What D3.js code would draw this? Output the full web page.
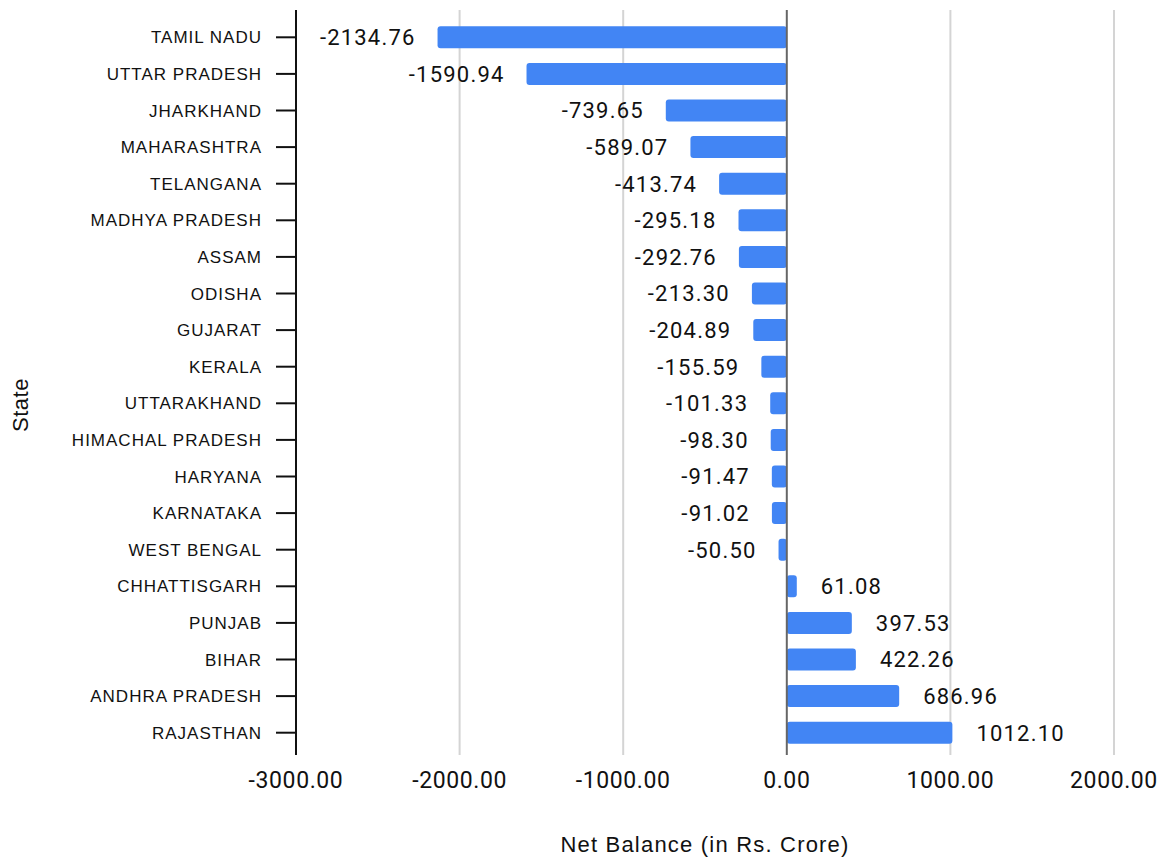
<!DOCTYPE html>
<html>
<head>
<meta charset="utf-8">
<script src="https://cdn.jsdelivr.net/npm/d3@7"></script>
<style>
  html, body { margin: 0; padding: 0; background: #fff; }
  svg { display: block; }
</style>
</head>
<body>
<svg id="chart" width="1159" height="858"></svg>
<script>
// Net balance by state (Rs. Crore)
const states = [
  "TAMIL NADU", "UTTAR PRADESH", "JHARKHAND", "MAHARASHTRA", "TELANGANA",
  "MADHYA PRADESH", "ASSAM", "ODISHA", "GUJARAT", "KERALA",
  "UTTARAKHAND", "HIMACHAL PRADESH", "HARYANA", "KARNATAKA", "WEST BENGAL",
  "CHHATTISGARH", "PUNJAB", "BIHAR", "ANDHRA PRADESH", "RAJASTHAN"
];
const netBalance = [
  -2134.76, -1590.94, -739.65, -589.07, -413.74,
  -295.18, -292.76, -213.30, -204.89, -155.59,
  -101.33, -98.30, -91.47, -91.02, -50.50,
  61.08, 397.53, 422.26, 686.96, 1012.10
];
const xTicks = [-3000, -2000, -1000, 0, 1000, 2000];

const fmt = v => v.toFixed(2);   // plain hyphen for negatives
const svg = d3.select("#chart");
const plot = { left: 296, right: 1114, top: 19, bottom: 751 };

const x = d3.scaleLinear().domain([-3000, 2000]).range([plot.left, plot.right]);
const y = d3.scaleBand().domain(states).range([plot.top, plot.bottom]).paddingInner(0.4).paddingOuter(0.2);

// vertical gridlines
svg.append("g").selectAll("line")
  .data(xTicks.filter(t => t !== 0 && t !== -3000))
  .join("line")
  .attr("x1", d => x(d)).attr("x2", d => x(d))
  .attr("y1", 10).attr("y2", 755)
  .attr("stroke", "#d4d4d4").attr("stroke-width", 2);

// x tick labels
svg.append("g").selectAll("text")
  .data(xTicks)
  .join("text")
  .attr("x", d => x(d)).attr("y", 788)
  .attr("text-anchor", "middle")
  .attr("font-family", "Roboto, sans-serif").attr("font-size", 23)
  .attr("letter-spacing", "0.6px")
  .attr("fill", "#111")
  .text(d => fmt(d));

// bars
const data = states.map((s, i) => ({ state: s, value: netBalance[i] }));
svg.append("g").selectAll("rect")
  .data(data)
  .join("rect")
  .attr("x", d => x(Math.min(0, d.value)))
  .attr("y", d => y(d.state))
  .attr("width", d => Math.abs(x(d.value) - x(0)))
  .attr("height", y.bandwidth())
  .attr("rx", 3)
  .attr("fill", "#4285f4");

// zero line
svg.append("line")
  .attr("x1", x(0)).attr("x2", x(0))
  .attr("y1", 10).attr("y2", 755)
  .attr("stroke", "#666").attr("stroke-width", 2);

// value labels
svg.append("g").selectAll("text")
  .data(data)
  .join("text")
  .attr("x", d => d.value < 0 ? x(d.value) - 22 : x(d.value) + 24)
  .attr("y", d => y(d.state) + y.bandwidth() / 2)
  .attr("dy", "0.36em")
  .attr("text-anchor", d => d.value < 0 ? "end" : "start")
  .attr("font-family", "Roboto, sans-serif").attr("font-size", 22)
  .attr("letter-spacing", "1.2px")
  .attr("fill", "#111")
  .text(d => fmt(d.value));

// left axis
const yAxis = svg.append("g");
yAxis.append("line")
  .attr("x1", plot.left).attr("x2", plot.left)
  .attr("y1", 10).attr("y2", 755)
  .attr("stroke", "#111").attr("stroke-width", 2);
yAxis.selectAll("line.tick")
  .data(states)
  .join("line")
  .attr("class", "tick")
  .attr("x1", plot.left - 20).attr("x2", plot.left)
  .attr("y1", d => y(d) + y.bandwidth() / 2).attr("y2", d => y(d) + y.bandwidth() / 2)
  .attr("stroke", "#111").attr("stroke-width", 2);
yAxis.selectAll("text")
  .data(states)
  .join("text")
  .attr("x", plot.left - 34)
  .attr("y", d => y(d) + y.bandwidth() / 2)
  .attr("dy", "0.36em")
  .attr("text-anchor", "end")
  .attr("font-family", "'Liberation Sans', Arial, sans-serif").attr("font-size", 17)
  .attr("letter-spacing", "1px")
  .attr("fill", "#111")
  .text(d => d);

// axis titles
svg.append("text")
  .attr("x", x(-500)).attr("y", 852)
  .attr("text-anchor", "middle")
  .attr("font-family", "'Liberation Sans', Arial, sans-serif").attr("font-size", 22)
  .attr("letter-spacing", "1.2px")
  .attr("fill", "#111")
  .text("Net Balance (in Rs. Crore)");

svg.append("text")
  .attr("transform", "translate(28,405) rotate(-90)")
  .attr("text-anchor", "middle")
  .attr("font-family", "'Liberation Sans', Arial, sans-serif").attr("font-size", 22)
  .attr("letter-spacing", "0.5px")
  .attr("fill", "#111")
  .text("State");
</script>
</body>
</html>
